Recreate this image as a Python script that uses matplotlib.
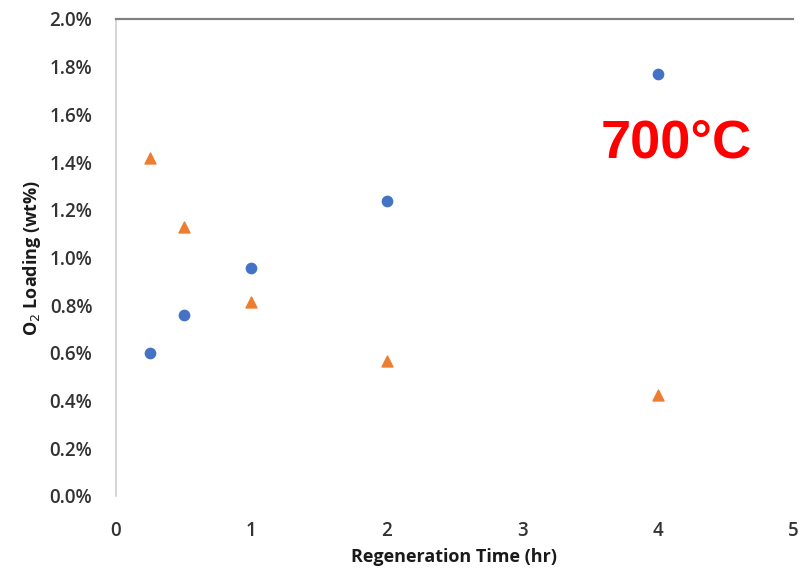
import matplotlib.pyplot as plt
from matplotlib.ticker import FuncFormatter

# regeneration time (hr) and O2 loading (wt%)
time_hr = [0.25, 0.5, 1, 2, 4]
loading_a = [0.60, 0.76, 0.955, 1.235, 1.768]
loading_b = [1.418, 1.127, 0.812, 0.565, 0.423]

x_ticks = [0, 1, 2, 3, 4, 5]
y_ticks = [0.0, 0.2, 0.4, 0.6, 0.8, 1.0, 1.2, 1.4, 1.6, 1.8, 2.0]

plt.rcParams['font.family'] = ['Open Sans', 'DejaVu Sans']

fig = plt.figure(figsize=(8.01, 5.74), dpi=100)
ax = fig.add_axes([0.1448, 0.1359, 0.8452, 0.831])

ax.scatter(time_hr, loading_a, marker='o', s=55, color='#4472C4', zorder=3)
ax.scatter(time_hr, loading_b, marker='^', s=62, color='#ED7D31', zorder=3)

ax.set_xlim(0, 5)
ax.set_ylim(0, 2.0)
ax.set_xticks(x_ticks)
ax.set_yticks(y_ticks)
ax.yaxis.set_major_formatter(FuncFormatter(lambda v, p: '{:.1f}%'.format(v)))

ax.spines['right'].set_visible(False)
ax.spines['bottom'].set_visible(False)
ax.spines['left'].set_color('#d0d0d0')
ax.spines['left'].set_linewidth(1.2)
ax.spines['top'].set_color('#808080')
ax.spines['top'].set_linewidth(1.6)

ax.tick_params(axis='both', length=0, labelsize=13.5, labelcolor='#333333')
ax.tick_params(axis='y', pad=17)
ax.tick_params(axis='x', pad=18)
for lbl in ax.get_xticklabels() + ax.get_yticklabels():
    lbl.set_fontweight('semibold')

ax.set_xlabel('Regeneration Time (hr)', fontsize=13, fontweight='bold',
              color='#1a1a1a', labelpad=5)
ax.set_ylabel('O$_2$ Loading (wt%)', fontsize=13, fontweight='bold',
              color='#1a1a1a', labelpad=5)

ax.text(0.716, 0.739, '700°C', transform=ax.transAxes, color='#ff0000',
        fontsize=39, fontweight='bold', family='Liberation Sans',
        ha='left', va='center')

fig.savefig('out.png', dpi=100)
